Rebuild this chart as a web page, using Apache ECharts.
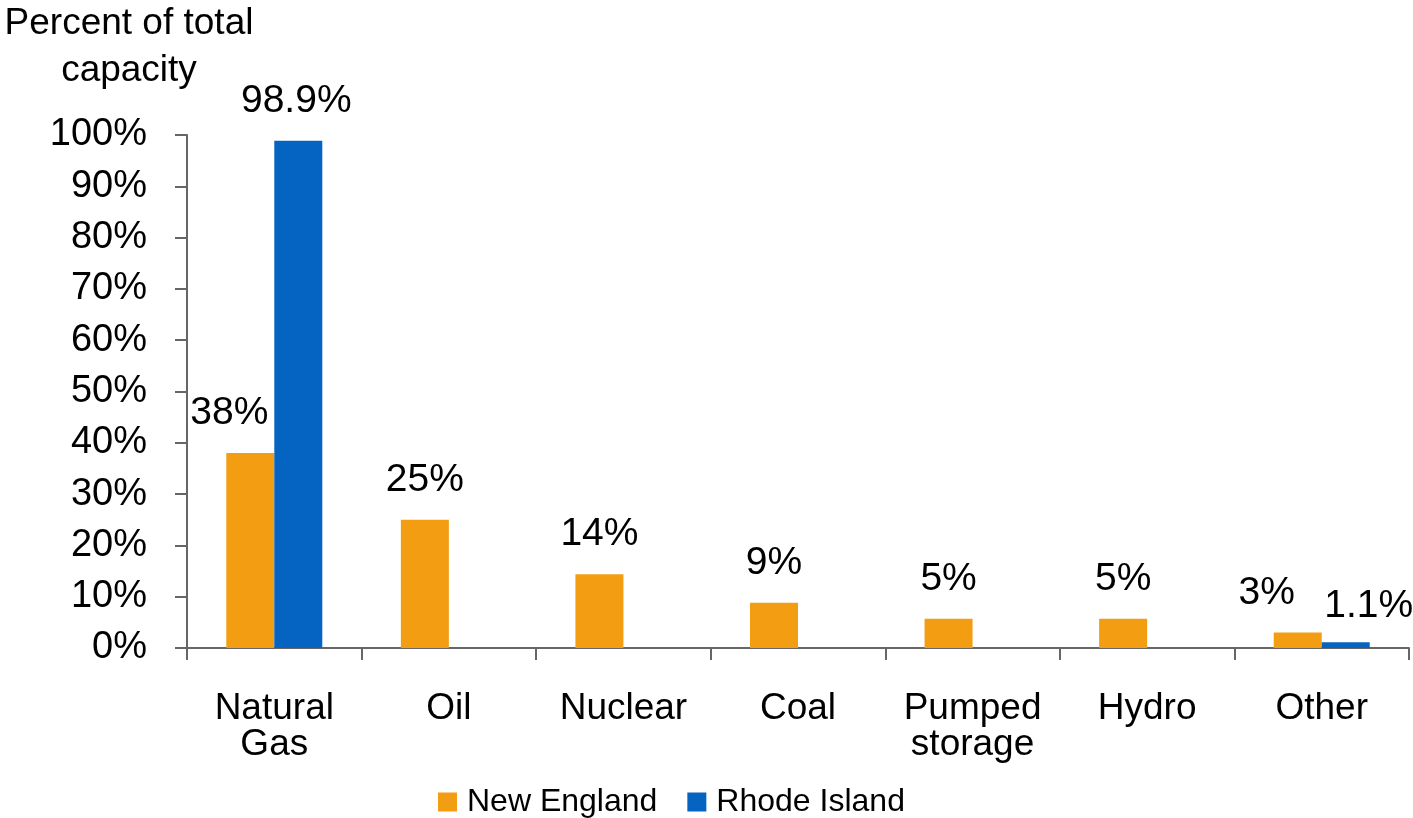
<!DOCTYPE html>
<html>
<head>
<meta charset="utf-8">
<script src="https://cdn.jsdelivr.net/npm/echarts@6/dist/echarts.min.js"></script>
<style>html,body{margin:0;padding:0;background:#fff;}#c{width:1413px;height:818px;}</style>
</head>
<body>
<div id="c"></div>
<script>
const categories = ['Natural\nGas', 'Oil', 'Nuclear', 'Coal', 'Pumped\nstorage', 'Hydro', 'Other'];
const newEngland = [38, 25, 14.4, 8.8, 5.7, 5.7, 3];
const newEnglandLabels = ['38%', '25%', '14%', '9%', '5%', '5%', '3%'];
const rhodeIsland = [98.9, null, null, null, null, null, 1.1];
const rhodeIslandLabels = ['98.9%', '', '', '', '', '', '1.1%'];
const yTicks = { min: 0, max: 100, interval: 10 };

const FONT = 'Arial, "Liberation Sans", sans-serif';
const neOffsets = { 0: [-21, 0], 6: [-31, 0] };
const riOffsets = { 0: [-2, 0], 6: [23, 3] };

function build(values, labels, offsets) {
  return values.map((v, i) => {
    const item = { value: v === null ? '-' : v };
    item.label = { formatter: labels[i] || '' };
    if (offsets[i]) item.label.offset = offsets[i];
    return item;
  });
}

const chart = echarts.init(document.getElementById('c'), null, { renderer: 'canvas' });
const labelStyle = {
  show: true, position: 'top', distance: 20, color: '#000',
  fontFamily: FONT, fontSize: 39, lineHeight: 39
};
chart.setOption({
  animation: false,
  backgroundColor: '#fff',
  grid: { left: 187, right: 4, top: 135, bottom: 170, containLabel: false },
  graphic: [{
    type: 'text', x: 129, y: 0,
    style: {
      text: 'Percent of total\ncapacity', x: 0, y: 0,
      font: '37px ' + FONT, fill: '#000', align: 'center', verticalAlign: 'top', lineHeight: 47
    }
  }],
  legend: {
    data: ['New England', 'Rhode Island'],
    left: 433, top: 781, icon: 'rect', itemWidth: 19, itemHeight: 19, itemGap: 30,
    textStyle: { fontFamily: FONT, fontSize: 32, color: '#000', padding: [0, 0, 0, 5] }
  },
  xAxis: {
    type: 'category', data: categories,
    axisLine: { lineStyle: { color: '#666', width: 2 } },
    axisTick: { show: true, length: 12, lineStyle: { color: '#666', width: 2 } },
    axisLabel: { margin: 43, color: '#000', fontFamily: FONT, fontSize: 37, lineHeight: 36, interval: 0 }
  },
  yAxis: {
    type: 'value', min: yTicks.min, max: yTicks.max, interval: yTicks.interval,
    axisLine: { show: true, lineStyle: { color: '#666', width: 2 } },
    axisTick: { show: true, length: 12, lineStyle: { color: '#666', width: 2 } },
    splitLine: { show: false },
    axisLabel: { formatter: '{value}%', margin: 40, color: '#000', fontFamily: FONT, fontSize: 38 }
  },
  series: [
    {
      name: 'New England', type: 'bar', barWidth: 48, barGap: '0%',
      itemStyle: { color: '#F29D12' },
      label: labelStyle,
      data: build(newEngland, newEnglandLabels, neOffsets)
    },
    {
      name: 'Rhode Island', type: 'bar', barWidth: 48, barGap: '0%',
      itemStyle: { color: '#0563C1' },
      label: labelStyle,
      data: build(rhodeIsland, rhodeIslandLabels, riOffsets)
    }
  ]
});
</script>
</body>
</html>
